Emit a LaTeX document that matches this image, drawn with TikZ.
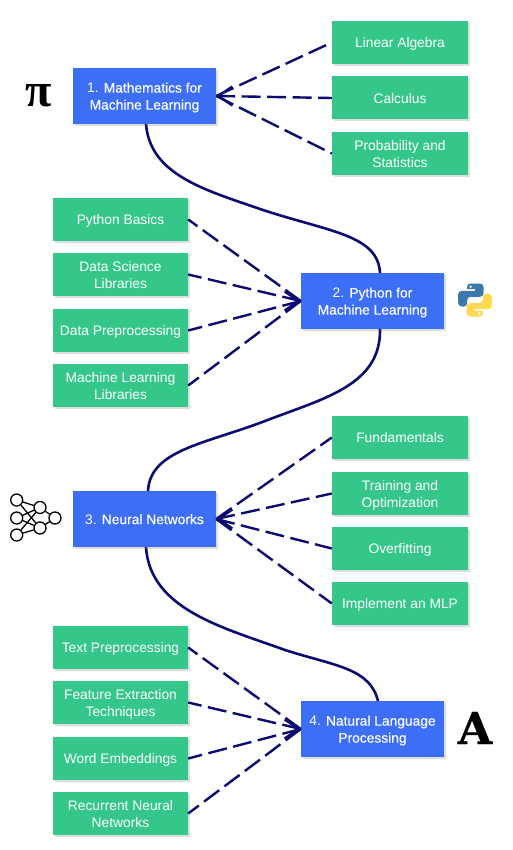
\documentclass[tikz,border=0pt]{standalone}
\usepackage{fontspec}
\setmainfont{Liberation Sans}
\newfontfamily\medf[FakeBold=0.35]{Liberation Sans}
\newfontfamily\iconf[FakeBold=0.8]{DejaVu Serif Bold}
\newfontfamily\pif{Liberation Serif Bold}
\usetikzlibrary{shadows,arrows.meta}
\definecolor{bluebox}{HTML}{3D6FF6}
\definecolor{greenbox}{HTML}{35C68A}
\definecolor{navy}{HTML}{0B0B70}
\definecolor{pyblue}{HTML}{3C78A9}
\definecolor{pyyellow}{HTML}{FFD951}
\newcommand\tx[1]{\raisebox{-5.3pt}[0pt][0pt]{\begin{tabular}{@{}c@{}}#1\end{tabular}}}
\tikzset{
  softshadow/.style={drop shadow={shadow xshift=2pt,shadow yshift=-2pt,opacity=.22,fill=black!60}},
  bluenode/.style={fill=bluebox,text=white,minimum width=143pt,minimum height=56pt,inner sep=0pt,font=\fontsize{13.8}{17}\selectfont,softshadow},
  greennode/.style={fill=greenbox,text=white,minimum height=43pt,inner sep=0pt,font=\fontsize{13.8}{17}\selectfont,softshadow},
  rightgreen/.style={greennode,minimum width=136pt},
  leftgreen/.style={greennode,minimum width=135pt},
  dashlink/.style={draw=navy,line width=2.4pt,dash pattern=on 19pt off 6.5pt},
  tipmark/.style={draw=navy,line width=2.4pt,-{Straight Barb[length=14pt,width=19pt,line width=2.4pt]}},
  flow/.style={draw=navy,line width=2.6pt,line cap=round},
  neuron/.style={circle,draw=black,line width=1.3pt,minimum size=12pt,inner sep=0pt},
  neuronlink/.style={draw=black,line width=1.3pt},
}
\begin{document}
\begin{tikzpicture}[x=1pt,y=-1pt]
\useasboundingbox (0,0) rectangle (513,850);
\fill[white] (0,0) rectangle (513,850);

% curves first
\coordinate (c1a) at (146,124);
\coordinate (c1b) at (380,273);
\coordinate (c2a) at (380,329);
\coordinate (c2b) at (148,491);
\coordinate (c3a) at (146,547);
\coordinate (c3b) at (378,701);
\draw[flow] (c1a) .. controls (150,175) and (205,190) .. (263,210) .. controls (330,232) and (378,235) .. (c1b);
\draw[flow] (c2a) .. controls (381,385) and (325,398) .. (265,421) .. controls (205,444) and (150,450) .. (c2b);
\draw[flow] (c3a) .. controls (150,610) and (225,628) .. (285,650) .. controls (335,666) and (370,668) .. (c3b);

% main nodes
\node[bluenode] (b1) at (144.5,96) {\tx{1. {\medf Mathematics for}\\{\medf Machine Learning}}};
\node[bluenode] (b2) at (372.5,301) {\tx{2. {\medf Python for}\\{\medf Machine Learning}}};
\node[bluenode] (b3) at (144.5,519) {\tx{3. {\medf Neural Networks}}};
\node[bluenode] (b4) at (372.5,729) {\tx{4. {\medf Natural Language}\\{\medf Processing}}};

% right groups
\node[rightgreen] (r1) at (400,42.5) {\tx{Linear Algebra}};
\node[rightgreen] (r2) at (400,98) {\tx{Calculus}};
\node[rightgreen] (r3) at (400,153.5) {\tx{Probability and\\Statistics}};
\node[rightgreen] (r4) at (400,437.5) {\tx{Fundamentals}};
\node[rightgreen] (r5) at (400,493.5) {\tx{Training and\\Optimization}};
\node[rightgreen] (r6) at (400,548.5) {\tx{Overfitting}};
\node[rightgreen] (r7) at (400,603.5) {\tx{Implement an MLP}};

% left groups
\node[leftgreen] (l1) at (120.5,219.5) {\tx{Python Basics}};
\node[leftgreen] (l2) at (120.5,274.5) {\tx{Data Science\\Libraries}};
\node[leftgreen] (l3) at (120.5,330.5) {\tx{Data Preprocessing}};
\node[leftgreen] (l4) at (120.5,385.5) {\tx{Machine Learning\\Libraries}};
\node[leftgreen] (l5) at (120.5,647.5) {\tx{Text Preprocessing}};
\node[leftgreen] (l6) at (120.5,702.5) {\tx{Feature Extraction\\Techniques}};
\node[leftgreen] (l7) at (120.5,758.5) {\tx{Word Embeddings}};
\node[leftgreen] (l8) at (120.5,813.5) {\tx{Recurrent Neural\\Networks}};

% dashed connectors
\foreach \g in {r1,r2,r3}{\draw[dashlink] (b1.east) -- (\g.west);}
\foreach \g in {l1,l2,l3,l4}{\draw[dashlink] (b2.west) -- (\g.east);}
\foreach \g in {r4,r5,r6,r7}{\draw[dashlink] (b3.east) -- (\g.west);}
\foreach \g in {l5,l6,l7,l8}{\draw[dashlink] (b4.west) -- (\g.east);}

% arrow tips
\coordinate (t1) at ([xshift=2pt]b1.east);
\coordinate (t2) at ([xshift=-2pt]b2.west);
\coordinate (t3) at ([xshift=2pt]b3.east);
\coordinate (t4) at ([xshift=-2pt]b4.west);
\draw[tipmark] (t1) -- (b1.east);
\draw[tipmark] (t2) -- (b2.west);
\draw[tipmark] (t3) -- (b3.east);
\draw[tipmark] (t4) -- (b4.west);

% pi icon
\node[inner sep=0pt,font=\pif\fontsize{48}{48}\selectfont] (piicon) at (38.5,96) {π};

% A icon
\node[inner sep=0pt,font=\iconf\fontsize{44}{44}\selectfont] (aicon) at (475,728) {A};

% python icon
\def\pyhalf{(475,283.5) [rounded corners=3.5pt] -- (483.5,283.5) -- (483.5,296.8) -- (467.2,296.8) -- (467.2,306.5) -- (458.2,306.5) -- (458.2,290.8) [sharp corners] -- (475.2,290.8) -- (475.2,289) -- (467.2,289) [rounded corners=3pt] -- (467.2,283.5) -- cycle}
\fill[pyblue] \pyhalf;
\fill[white] (470.6,286.7) circle (1.3);
\begin{scope}[rotate around={180:(475,300)}]
\fill[pyyellow] \pyhalf;
\fill[white] (470.6,286.7) circle (1.3);
\end{scope}

% neural network icon
\node[neuron] (n1) at (16.7,500) {};
\node[neuron] (n2) at (16.7,518) {};
\node[neuron] (n3) at (16.7,535) {};
\node[neuron] (n4) at (40,507.5) {};
\node[neuron] (n5) at (40,528) {};
\node[neuron] (n6) at (55,518) {};
\foreach \a in {n1,n2,n3}{\foreach \b in {n4,n5}{\draw[neuronlink] (\a) -- (\b);}}
\foreach \a in {n4,n5}{\draw[neuronlink] (\a) -- (n6);}
\end{tikzpicture}
\end{document}
